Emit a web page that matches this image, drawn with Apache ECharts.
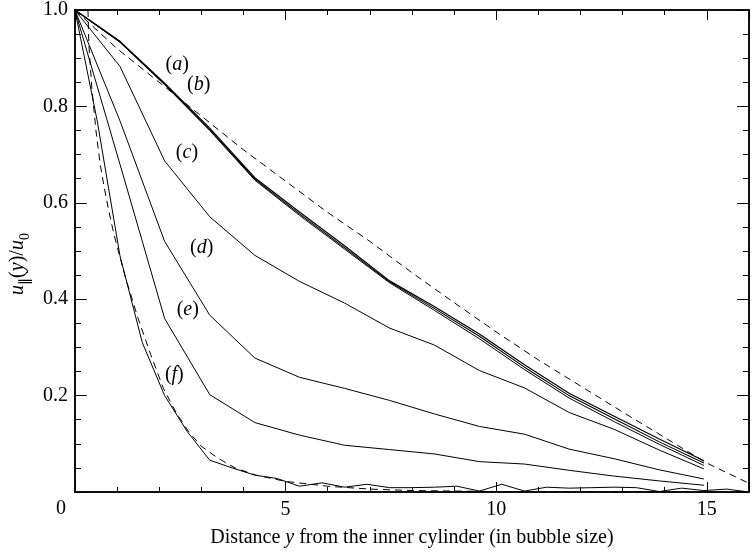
<!DOCTYPE html>
<html>
<head>
<meta charset="utf-8">
<script src="https://cdn.jsdelivr.net/npm/echarts@6/dist/echarts.min.js"></script>
<style>
  html, body { margin: 0; padding: 0; background: #fff; }
  #chart { width: 752px; height: 553px; }
</style>
</head>
<body>
<div id="chart"></div>
<script>
// Sample positions of the coarse profiles (a)-(e)
const xCoarse = [0, 1.07, 2.13, 3.2, 4.27, 5.33, 6.4, 7.47, 8.53, 9.6, 10.67, 11.73, 12.8, 13.87, 14.93];
const curveA  = [1.0, 0.935, 0.848, 0.755, 0.652, 0.581, 0.511, 0.438, 0.385, 0.328, 0.264, 0.205, 0.157, 0.110, 0.065];
const curveB  = [1.0, 0.934, 0.846, 0.752, 0.649, 0.577, 0.507, 0.436, 0.381, 0.323, 0.259, 0.200, 0.152, 0.104, 0.060];
const curveB2 = [1.0, 0.933, 0.845, 0.750, 0.647, 0.574, 0.504, 0.434, 0.377, 0.318, 0.254, 0.195, 0.146, 0.099, 0.055];
const curveC  = [1.0, 0.883, 0.687, 0.571, 0.491, 0.437, 0.392, 0.340, 0.305, 0.252, 0.216, 0.165, 0.130, 0.087, 0.048];
const curveD  = [1.0, 0.770, 0.520, 0.367, 0.278, 0.238, 0.215, 0.190, 0.162, 0.136, 0.120, 0.089, 0.069, 0.046, 0.027];
const curveE  = [1.0, 0.680, 0.360, 0.202, 0.144, 0.118, 0.097, 0.088, 0.079, 0.063, 0.058, 0.045, 0.033, 0.023, 0.014];

// Finer sampling of profile (f)
const xFine  = [0, 0.53, 1.07, 1.6, 2.13, 2.67, 3.2, 3.73, 4.27, 4.8, 5.33, 5.87, 6.4, 6.93, 7.47, 8.0,
                8.53, 9.07, 9.6, 10.13, 10.67, 11.2, 11.73, 12.27, 12.8, 13.33, 13.87, 14.4, 14.93, 15.47, 16];
const curveF = [1.0, 0.77, 0.49, 0.31, 0.20, 0.125, 0.066, 0.05, 0.035, 0.028, 0.012, 0.019, 0.010, 0.016, 0.009, 0.009,
                0.010, 0.012, 0.002, 0.016, 0.002, 0.010, 0.008, 0.009, 0.010, 0.009, 0.001, 0.008, 0.003, 0.006, 0.0];

// Dashed reference profiles
const fitSlowX = [0, 1, 2, 3, 4, 5, 6, 7, 8, 9, 10, 11, 12, 13, 14, 15, 16];
const fitSlowY = [1.0, 0.92, 0.85, 0.78, 0.71, 0.645, 0.58, 0.52, 0.455, 0.393, 0.332, 0.274, 0.22, 0.166, 0.113, 0.06, 0.018];
const fitFastX = [0.31, 0.33, 0.4, 0.5, 0.6, 0.7, 0.8, 0.9, 1.0, 1.2, 1.5, 1.8, 2.1, 2.4, 2.7, 3.0, 3.4, 3.8, 4.3, 5.0, 6.0, 7.0, 8.0, 10, 12, 16];
const fitFastY = [1.0, 0.93, 0.84, 0.75, 0.68, 0.63, 0.585, 0.545, 0.51, 0.445, 0.36, 0.285, 0.215, 0.165, 0.125, 0.095, 0.07, 0.05, 0.035, 0.022, 0.012, 0.006, 0.003, 0.001, 0, 0];

// Tick labels
const xTickLabels = ['5', '10', '15'];
const yTickLabels = ['0.2', '0.4', '0.6', '0.8', '1.0'];

// Curve annotations, placed in data coordinates
const curveNames = ['a', 'b', 'c', 'd', 'e', 'f'];
const curveNameX = [2.43, 2.94, 2.66, 3.01, 2.68, 2.36];
const curveNameY = [0.887, 0.845, 0.703, 0.507, 0.379, 0.243];

const FONT = '"Liberation Serif", "Times New Roman", serif';
const INK = '#000';

function pairs(xs, ys) { return xs.map((x, i) => [x, ys[i]]); }

function lineSeries(xs, ys, width, dashed) {
  return {
    type: 'line', xAxisIndex: 0, yAxisIndex: 0,
    data: pairs(xs, ys), showSymbol: false, symbol: 'none', silent: true,
    lineStyle: { color: INK, width: width, type: dashed ? [7, 5] : 'solid' },
    z: 3
  };
}

function xAxisDef(pos, interval, tickLen, withLabels) {
  const ax = {
    type: 'value', min: 0, max: 16, interval: interval, position: pos,
    axisLine: { show: true, onZero: false, lineStyle: { color: INK, width: 1.5 } },
    axisTick: { show: true, inside: true, length: tickLen, lineStyle: { color: INK, width: 1 } },
    axisLabel: { show: false },
    splitLine: { show: false }
  };
  if (withLabels) {
    ax.axisLabel = {
      show: true, margin: 8, color: INK, fontFamily: FONT, fontSize: 20,
      formatter: v => (xTickLabels.indexOf(String(v)) >= 0 ? String(v) : '')
    };
    ax.name = '{t|Distance }{i|y}{t| from the inner cylinder (in bubble size)}';
    ax.nameLocation = 'middle';
    ax.nameGap = 36;
    ax.nameTextStyle = {
      color: INK, fontFamily: FONT, fontSize: 20,
      rich: {
        t: { fontFamily: FONT, fontSize: 20, color: INK },
        i: { fontFamily: FONT, fontSize: 20, color: INK, fontStyle: 'italic' }
      }
    };
  }
  return ax;
}

function yAxisDef(pos, interval, tickLen, withLabels) {
  const ax = {
    type: 'value', min: 0, max: 1, interval: interval, position: pos,
    axisLine: { show: true, onZero: false, lineStyle: { color: INK, width: 1.5 } },
    axisTick: { show: true, inside: true, length: tickLen, lineStyle: { color: INK, width: 1 } },
    axisLabel: { show: false },
    splitLine: { show: false }
  };
  if (withLabels) {
    ax.axisLabel = {
      show: true, margin: 7, color: INK, fontFamily: FONT, fontSize: 20,
      formatter: v => {
        const s = v.toFixed(1);
        return yTickLabels.indexOf(s) >= 0 ? s : '';
      }
    };
    ax.name = '{i|u}{s|∥}{p|(}{i|y}{p|)/}{i|u}{s|0}';
    ax.nameLocation = 'middle';
    ax.nameRotate = 90;
    ax.nameGap = 36;
    ax.nameTextStyle = {
      color: INK, fontFamily: FONT, fontSize: 20,
      padding: [0, 26, 0, 0],
      rich: {
        i: { fontFamily: FONT, fontSize: 20, color: INK, fontStyle: 'italic', lineHeight: 28, verticalAlign: 'middle' },
        p: { fontFamily: FONT, fontSize: 20, color: INK, lineHeight: 28, verticalAlign: 'middle' },
        s: { fontFamily: FONT, fontSize: 14, color: INK, lineHeight: 28, verticalAlign: 'bottom' }
      }
    };
  }
  return ax;
}

const chart = echarts.init(document.getElementById('chart'), null, { renderer: 'canvas' });

const series = [
  lineSeries(xCoarse, curveA, 1.2, false),
  lineSeries(xCoarse, curveB, 1.1, false),
  lineSeries(xCoarse, curveB2, 1.0, false),
  lineSeries(xCoarse, curveC, 1.0, false),
  lineSeries(xCoarse, curveD, 1.0, false),
  lineSeries(xCoarse, curveE, 1.0, false),
  lineSeries(xFine, curveF, 1.0, false),
  lineSeries(fitSlowX, fitSlowY, 1.0, true),
  lineSeries(fitFastX, fitFastY, 1.0, true)
];

chart.setOption({
  animation: false,
  backgroundColor: '#fff',
  grid: { left: 69, top: 10, width: 685, height: 485, containLabel: false },
  xAxis: [
    xAxisDef('bottom', 1, 5, true),
    xAxisDef('bottom', 5, 10, false),
    xAxisDef('top', 1, 5, false),
    xAxisDef('top', 5, 10, false)
  ],
  yAxis: [
    yAxisDef('left', 0.05, 6, false),
    yAxisDef('left', 0.2, 12, true),
    yAxisDef('right', 0.05, 6, false),
    yAxisDef('right', 0.2, 12, false)
  ],
  series: series
});

// Curve annotations and the shared corner "0" label
const graphics = curveNames.map((n, i) => {
  const p = chart.convertToPixel({ xAxisIndex: 0, yAxisIndex: 0 }, [curveNameX[i], curveNameY[i]]);
  return {
    type: 'text', x: p[0], y: p[1], z: 10,
    style: {
      text: '{p|(}{i|' + n + '}{p|)}',
      align: 'center', verticalAlign: 'middle',
      rich: {
        p: { fontFamily: FONT, fontSize: 20, fill: INK },
        i: { fontFamily: FONT, fontSize: 20, fill: INK, fontStyle: 'italic' }
      }
    }
  };
});
const origin = chart.convertToPixel({ xAxisIndex: 0, yAxisIndex: 0 }, [0, 0]);
graphics.push({
  type: 'text', x: origin[0] - 14, y: origin[1] + 17, z: 10,
  style: { text: '0', fontFamily: FONT, fontSize: 20, fill: INK, align: 'center', verticalAlign: 'middle' }
});
chart.setOption({ graphic: graphics });
</script>
</body>
</html>
